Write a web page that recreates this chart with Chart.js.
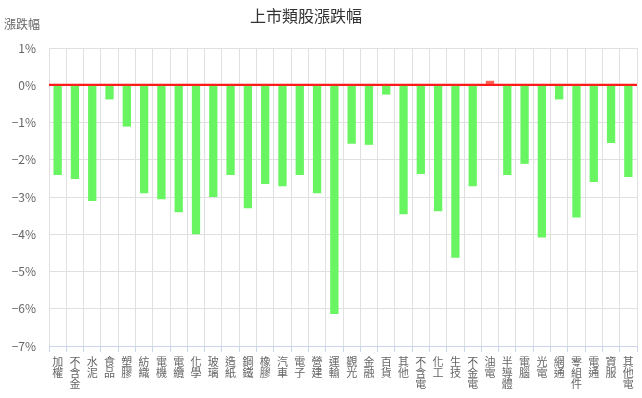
<!DOCTYPE html>
<html>
<head>
<meta charset="utf-8">
<script src="https://cdn.jsdelivr.net/npm/chart.js@4/dist/chart.umd.min.js"></script>
<style>
  html, body { margin: 0; padding: 0; background: #fff; }
  #wrap { width: 642px; height: 398px; }
</style>
</head>
<body>
<div id="wrap"><canvas id="chart"></canvas></div>
<script>
const categories = [
  "加權", "不含金", "水泥", "食品", "塑膠", "紡織", "電機", "電纜", "化學", "玻璃",
  "造紙", "鋼鐵", "橡膠", "汽車", "電子", "營建", "運輸", "觀光", "金融", "百貨",
  "其他", "不含電", "化工", "生技", "不金電", "油電", "半導體", "電腦", "光電", "網通",
  "零組件", "電通", "資服", "其他電"
];

const changes = [
  -2.41, -2.52, -3.11, -0.38, -1.11, -2.90, -3.06, -3.41, -4.00, -3.00,
  -2.41, -3.30, -2.65, -2.71, -2.41, -2.90, -6.14, -1.57, -1.60, -0.25,
  -3.46, -2.38, -3.38, -4.63, -2.71, 0.12, -2.41, -2.11, -4.09, -0.38,
  -3.55, -2.60, -1.55, -2.46
];

const yTicks = [1, 0, -1, -2, -3, -4, -5, -6, -7];

const chartTitle = "上市類股漲跌幅";
const axisTitle = "漲跌幅";

const FONT = "'Noto Sans CJK TC', 'Noto Sans', sans-serif";

// draws the red zero line over the bars plus the two header texts
const extras = {
  id: "extras",
  afterDatasetsDraw(chart) {
    const ctx = chart.ctx;
    const area = chart.chartArea;
    const y0 = chart.scales.y.getPixelForValue(0);
    ctx.save();
    ctx.strokeStyle = "#ff1a1a";
    ctx.lineWidth = 2;
    ctx.beginPath();
    ctx.moveTo(area.left, y0 - 0.5);
    ctx.lineTo(area.right, y0 - 0.5);
    ctx.stroke();
    ctx.restore();
  },
  afterDraw(chart) {
    const ctx = chart.ctx;
    ctx.save();
    ctx.textBaseline = "middle";
    ctx.fillStyle = "#333";
    ctx.font = "16px " + FONT;
    ctx.textAlign = "center";
    ctx.fillText(chartTitle, 306, 16);
    ctx.fillStyle = "#666";
    ctx.font = "12px " + FONT;
    ctx.textAlign = "left";
    ctx.fillText(axisTitle, 4, 24);
    ctx.restore();
  },
};

new Chart(document.getElementById("chart"), {
  type: "bar",
  data: {
    labels: categories.map((c) => c.split("")),
    datasets: [
      {
        label: axisTitle,
        data: changes,
        backgroundColor: changes.map((v) => (v >= 0 ? "#ff6457" : "#69f562")),
        barPercentage: 0.6,
        categoryPercentage: 0.8,
      },
    ],
  },
  options: {
    responsive: true,
    maintainAspectRatio: false,
    animation: false,
    layout: { padding: { top: 48, right: 5, left: 0, bottom: 0 } },
    plugins: {
      legend: { display: false },
      title: { display: false },
      tooltip: { enabled: false },
    },
    scales: {
      x: {
        grid: {
          color: "#e0e0e0",
          tickColor: "#ccd6eb",
          tickLength: 6,
          offset: true,
        },
        border: { color: "#ccd6eb" },
        ticks: {
          autoSkip: false,
          maxRotation: 0,
          minRotation: 0,
          padding: 4,
          color: "#666",
          font: { family: FONT, size: 11, lineHeight: 1.02 },
        },
        afterFit(scale) {
          scale.height = 52;
        },
      },
      y: {
        min: -7,
        max: 1,
        afterBuildTicks(scale) {
          scale.ticks = yTicks.map((v) => ({ value: v }));
        },
        grid: {
          drawTicks: false,
          color: (c) => (c.tick && c.tick.value === 0 ? "#ff1a1a" : "#e0e0e0"),
        },
        border: { display: false },
        ticks: {
          padding: 13,
          color: "#666",
          font: { family: FONT, size: 12 },
          callback: (v) => (v < 0 ? "\u2212" + Math.abs(v) : v) + "%",
        },
        afterFit(scale) {
          scale.width = 49;
        },
      },
    },
  },
  plugins: [extras],
});
</script>
</body>
</html>
